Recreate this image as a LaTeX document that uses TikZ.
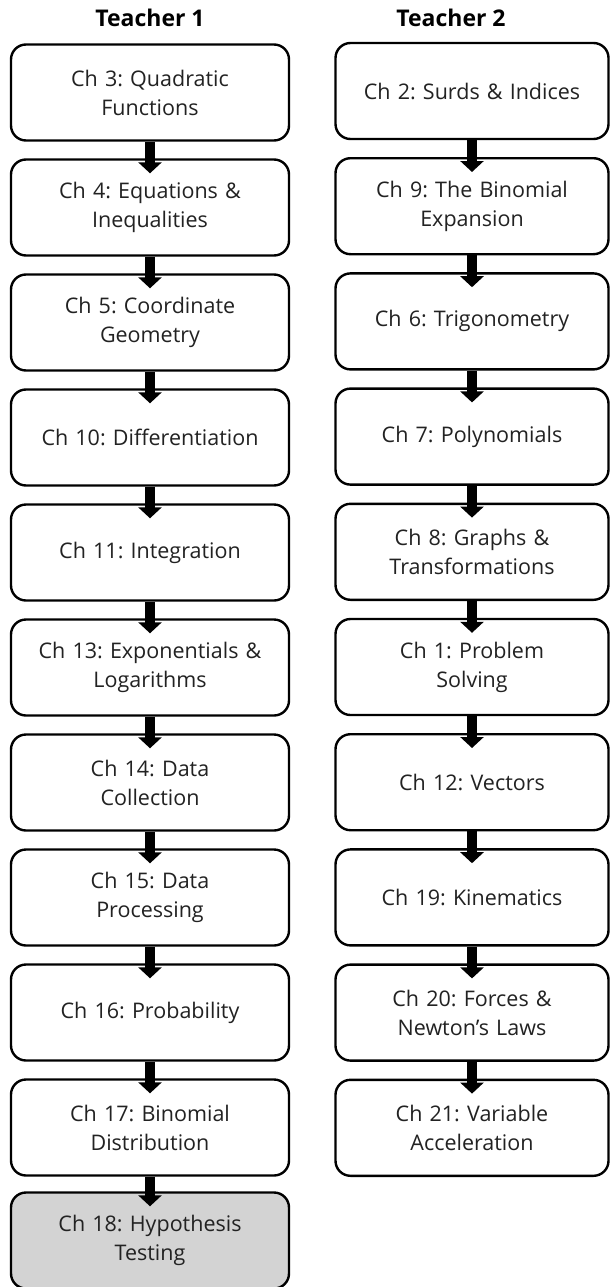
\documentclass[tikz,border=0pt]{standalone}
\usepackage{fontspec}
\setmainfont{Open Sans}
\frenchspacing
\usetikzlibrary{arrows.meta}
\definecolor{ink}{HTML}{222222}
\definecolor{shade}{HTML}{D3D3D3}
\tikzset{
  chapter/.style={draw=black, line width=2.4pt, rounded corners=15pt, fill=white,
    minimum height=96pt, text width=260pt, align=center, text=ink,
    font=\fontsize{21.5}{29}\selectfont, inner sep=0pt},
  leftbox/.style={chapter, minimum width=278pt},
  rightbox/.style={chapter, minimum width=273pt},
  lastbox/.style={fill=shade},
  header/.style={font=\fontsize{23}{27}\selectfont\bfseries, text=black, inner sep=0pt},
  flow/.style={line width=10pt, draw=black,
    -{Triangle[width=23pt,length=11pt]}, shorten >=0pt}
}
\begin{document}
\begin{tikzpicture}[x=1pt,y=-1pt]
\useasboundingbox (0,0) rectangle (611,1287);

\node[header] (h1) at (150,18) {Teacher 1};
\node[header] (h2) at (451,18) {Teacher 2};

% Teacher 1 sequence
\node[leftbox] (a1)  at (150, 92.5)  {Ch 3: Quadratic\\Functions};
\node[leftbox] (a2)  at (150, 207.5) {Ch 4: Equations \&\\Inequalities};
\node[leftbox] (a3)  at (150, 322.5) {Ch 5: Coordinate\\Geometry};
\node[leftbox] (a4)  at (150, 437.5) {Ch 10: Differentiation};
\node[leftbox] (a5)  at (150, 552.5) {Ch 11: Integration};
\node[leftbox] (a6)  at (150, 667.5) {Ch 13: Exponentials \&\\Logarithms};
\node[leftbox] (a7)  at (150, 782.5) {Ch 14: Data\\Collection};
\node[leftbox] (a8)  at (150, 897.5) {Ch 15: Data\\Processing};
\node[leftbox] (a9)  at (150,1012.5) {Ch 16: Probability};
\node[leftbox] (a10) at (150,1127.5) {Ch 17: Binomial\\Distribution};
\node[leftbox, lastbox] (a11) at (150,1240.5) {Ch 18: Hypothesis\\Testing};

% Teacher 2 sequence
\node[rightbox] (b1)  at (472, 91)    {Ch 2: Surds \& Indices};
\node[rightbox] (b2)  at (472, 206.2) {Ch 9: The Binomial\\Expansion};
\node[rightbox] (b3)  at (472, 321.4) {Ch 6: Trigonometry};
\node[rightbox] (b4)  at (472, 436.6) {Ch 7: Polynomials};
\node[rightbox] (b5)  at (472, 551.8) {Ch 8: Graphs \&\\Transformations};
\node[rightbox] (b6)  at (472, 667)   {Ch 1: Problem\\Solving};
\node[rightbox] (b7)  at (472, 782.2) {Ch 12: Vectors};
\node[rightbox] (b8)  at (472, 897.4) {Ch 19: Kinematics};
\node[rightbox] (b9)  at (472,1012.6) {Ch 20: Forces \&\\Newton’s Laws};
\node[rightbox] (b10) at (472,1127.8) {Ch 21: Variable\\Acceleration};

% connectors
\foreach \i [evaluate=\i as \j using int(\i+1)] in {1,...,10}
  \draw[flow] (a\i.south) -- ([yshift=-15pt]a\j.north);
\foreach \i [evaluate=\i as \j using int(\i+1)] in {1,...,9}
  \draw[flow] (b\i.south) -- ([yshift=-15pt]b\j.north);
\end{tikzpicture}
\end{document}
